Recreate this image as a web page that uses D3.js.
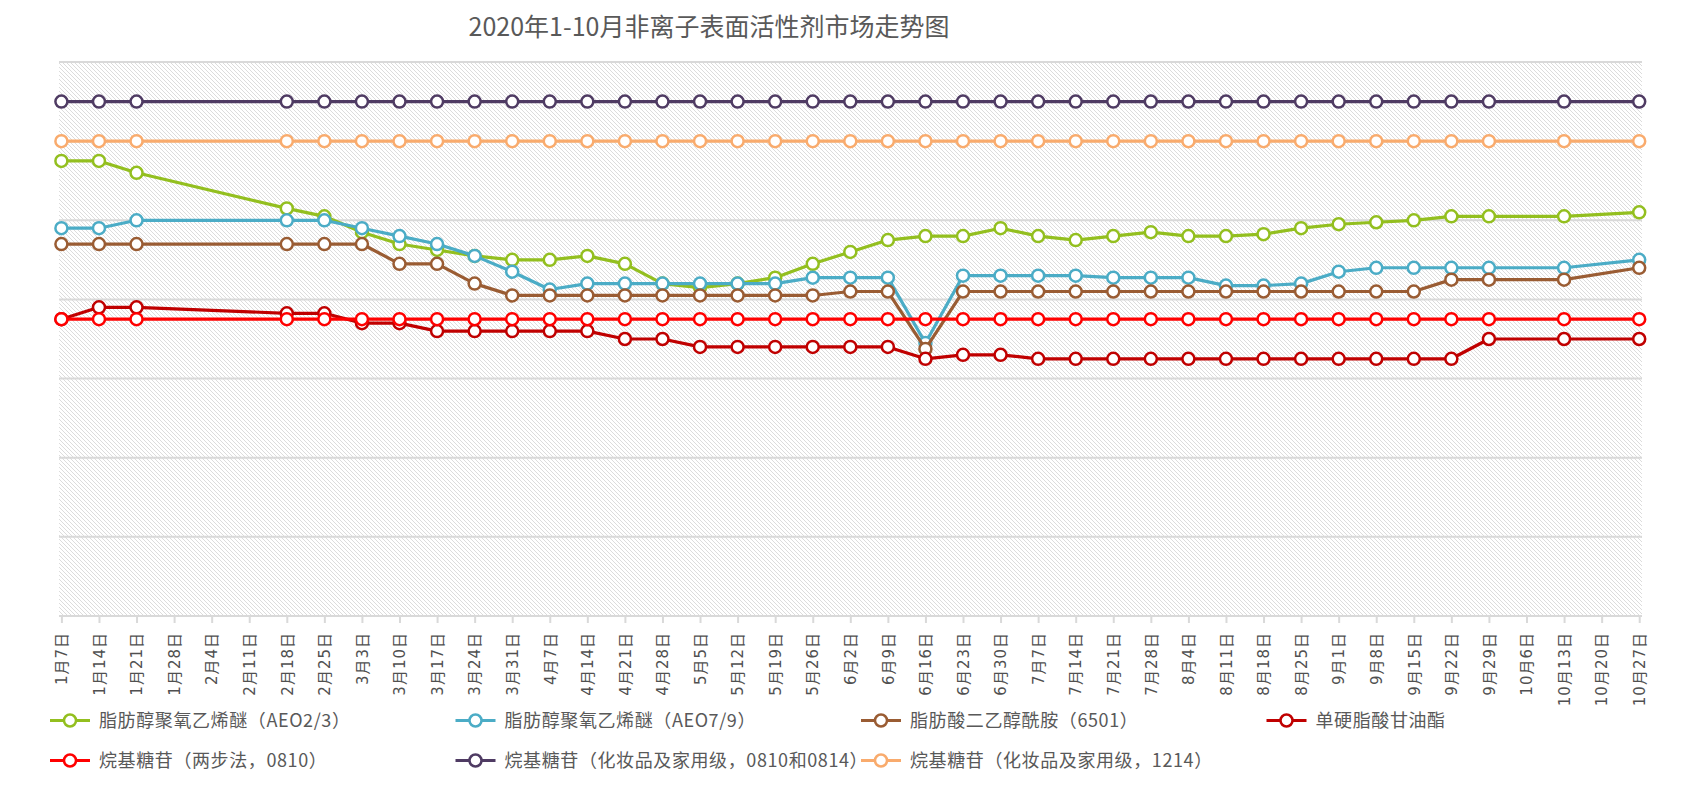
<!DOCTYPE html>
<html><head><meta charset="utf-8">
<script src="https://cdn.jsdelivr.net/npm/d3@7/dist/d3.min.js"></script>
<style>
html,body{margin:0;padding:0;background:#fff;}
svg{display:block;}
</style></head>
<body>
<svg id="chart" width="1689" height="808"></svg>
<script>
const title = "2020年1-10月非离子表面活性剂市场走势图";
const categories = ["1月7日","1月14日","1月21日","1月28日","2月4日","2月11日","2月18日","2月25日","3月3日","3月10日","3月17日","3月24日","3月31日","4月7日","4月14日","4月21日","4月28日","5月5日","5月12日","5月19日","5月26日","6月2日","6月9日","6月16日","6月23日","6月30日","7月7日","7月14日","7月21日","7月28日","8月4日","8月11日","8月18日","8月25日","9月1日","9月8日","9月15日","9月22日","9月29日","10月6日","10月13日","10月20日","10月27日"];
const yTicks = [0,2000,4000,6000,8000,10000,12000,14000];
const seriesNames = ["脂肪醇聚氧乙烯醚（AEO2/3）","脂肪醇聚氧乙烯醚（AEO7/9）","脂肪酸二乙醇酰胺（6501）","单硬脂酸甘油酯","烷基糖苷（两步法，0810）","烷基糖苷（化妆品及家用级，0810和0814）","烷基糖苷（化妆品及家用级，1214）"];
const aeo23 = [11500,11500,11200,null,null,null,10300,10100,9700,9400,9250,9100,9000,9000,9100,8900,8400,8300,8400,8550,8900,9200,9500,9600,9600,9800,9600,9500,9600,9700,9600,9600,9650,9800,9900,9950,10000,10100,10100,null,10100,null,10200];
const aeo79 = [9800,9800,10000,null,null,null,10000,10000,9800,9600,9400,9100,8700,8250,8400,8400,8400,8400,8400,8400,8550,8550,8550,6900,8600,8600,8600,8600,8550,8550,8550,8350,8350,8400,8700,8800,8800,8800,8800,null,8800,null,9000];
const amide6501 = [9400,9400,9400,null,null,null,9400,9400,9400,8900,8900,8400,8100,8100,8100,8100,8100,8100,8100,8100,8100,8200,8200,6750,8200,8200,8200,8200,8200,8200,8200,8200,8200,8200,8200,8200,8200,8500,8500,null,8500,null,8800];
const gms = [7500,7800,7800,null,null,null,7650,7650,7400,7400,7200,7200,7200,7200,7200,7000,7000,6800,6800,6800,6800,6800,6800,6500,6600,6600,6500,6500,6500,6500,6500,6500,6500,6500,6500,6500,6500,6500,7000,null,7000,null,7000];
const apgTwoStep = [7500,7500,7500,null,null,null,7500,7500,7500,7500,7500,7500,7500,7500,7500,7500,7500,7500,7500,7500,7500,7500,7500,7500,7500,7500,7500,7500,7500,7500,7500,7500,7500,7500,7500,7500,7500,7500,7500,null,7500,null,7500];
const apg0810 = [13000,13000,13000,null,null,null,13000,13000,13000,13000,13000,13000,13000,13000,13000,13000,13000,13000,13000,13000,13000,13000,13000,13000,13000,13000,13000,13000,13000,13000,13000,13000,13000,13000,13000,13000,13000,13000,13000,null,13000,null,13000];
const apg1214 = [12000,12000,12000,null,null,null,12000,12000,12000,12000,12000,12000,12000,12000,12000,12000,12000,12000,12000,12000,12000,12000,12000,12000,12000,12000,12000,12000,12000,12000,12000,12000,12000,12000,12000,12000,12000,12000,12000,null,12000,null,12000];
const colors = ["#93BF1F","#4BACC6","#9A5C33","#C00000","#FF0000","#4F3B63","#F9AB6D"];

const seriesValues = [aeo23, aeo79, amide6501, gms, apgTwoStep, apg0810, apg1214];
const series = seriesNames.map((n,i)=>({name:n, values:seriesValues[i], color:colors[i]}));

const svg = d3.select("#chart");
const plot = {left:59, right:1642, top:62, bottom:616};
const x = d3.scalePoint().domain(categories).range([61.4, 1639.2]);
const y = d3.scaleLinear().domain([0,14000]).range([plot.bottom, plot.top]);

const defs = svg.append("defs");
const pat = defs.append("pattern").attr("id","hatch").attr("width",4).attr("height",4).attr("patternUnits","userSpaceOnUse");
pat.append("rect").attr("width",4).attr("height",4).attr("fill","#ffffff");
pat.append("path").attr("d","M-1,-1 L5,5 M-1,3 L1,5 M3,-1 L5,1").attr("stroke","#dcdcdc").attr("stroke-width",1);

svg.append("rect").attr("x",plot.left).attr("y",plot.top).attr("width",plot.right-plot.left).attr("height",plot.bottom-plot.top).attr("fill","url(#hatch)");

// gridlines
svg.append("g").selectAll("line").data(yTicks.filter(t=>t>0)).join("line")
  .attr("x1",plot.left).attr("x2",plot.right)
  .attr("y1",d=>y(d)).attr("y2",d=>y(d))
  .attr("stroke","#d9d9d9").attr("stroke-width",2);

// x axis
const xAxis = d3.axisBottom(x).tickSize(7).tickSizeOuter(0).tickPadding(0);
const gx = svg.append("g").attr("transform",`translate(0,${plot.bottom})`).call(xAxis);
gx.select(".domain").remove();
gx.insert("line",":first-child").attr("x1",plot.left).attr("x2",plot.right).attr("y1",0).attr("y2",0).attr("stroke","#d9d9d9").attr("stroke-width",2);
gx.selectAll(".tick line").attr("stroke","#d9d9d9").attr("stroke-width",2);
gx.selectAll(".tick text")
  .attr("transform","rotate(-90)")
  .attr("x",-16).attr("y",0).attr("dy","0.35em")
  .attr("text-anchor","end")
  .attr("fill","#505050")
  .style("font-family","'DejaVu Sans','Noto Sans CJK SC',sans-serif")
  .style("font-size","15px")
  .style("letter-spacing","1px");

// lines
const line = d3.line().x(d=>x(d.cat)).y(d=>y(d.v));
const gs = svg.append("g");
series.forEach(s=>{
  const pts = s.values.map((v,i)=>({cat:categories[i], v})).filter(d=>d.v!==null);
  const g = gs.append("g");
  g.append("path").datum(pts).attr("d",line).attr("fill","none").attr("stroke",s.color).attr("stroke-width",3.2).attr("stroke-linejoin","round");
  g.selectAll("circle").data(pts).join("circle")
    .attr("cx",d=>x(d.cat)).attr("cy",d=>y(d.v)).attr("r",6)
    .attr("fill","#fff").attr("stroke",s.color).attr("stroke-width",2.5);
});

// title
svg.append("text").attr("x",709).attr("y",27).attr("dy","0.35em").attr("text-anchor","middle")
  .attr("fill","#595959").style("font-family","'Noto Sans CJK SC',sans-serif").style("font-size","25px")
  .text(title);

// legend
const legCols = [50, 455.5, 861, 1266.5];
const legRows = [720.5, 760.5];
const lg = svg.append("g");
series.forEach((s,i)=>{
  const col = i<4 ? i : i-4;
  const row = i<4 ? 0 : 1;
  const gx0 = legCols[col], gy0 = legRows[row];
  const it = lg.append("g").attr("transform",`translate(${gx0},${gy0})`);
  it.append("line").attr("x1",0).attr("x2",40).attr("y1",0).attr("y2",0).attr("stroke",s.color).attr("stroke-width",3.2);
  it.append("circle").attr("cx",20).attr("cy",0).attr("r",6).attr("fill","#fff").attr("stroke",s.color).attr("stroke-width",2.5);
  it.append("text").attr("x",49).attr("y",0).attr("dy","0.35em").attr("fill","#595959")
    .style("font-family","'Noto Sans CJK SC',sans-serif").style("font-size","18px").style("letter-spacing","0.6px").text(s.name);
});
</script>
</body></html>
